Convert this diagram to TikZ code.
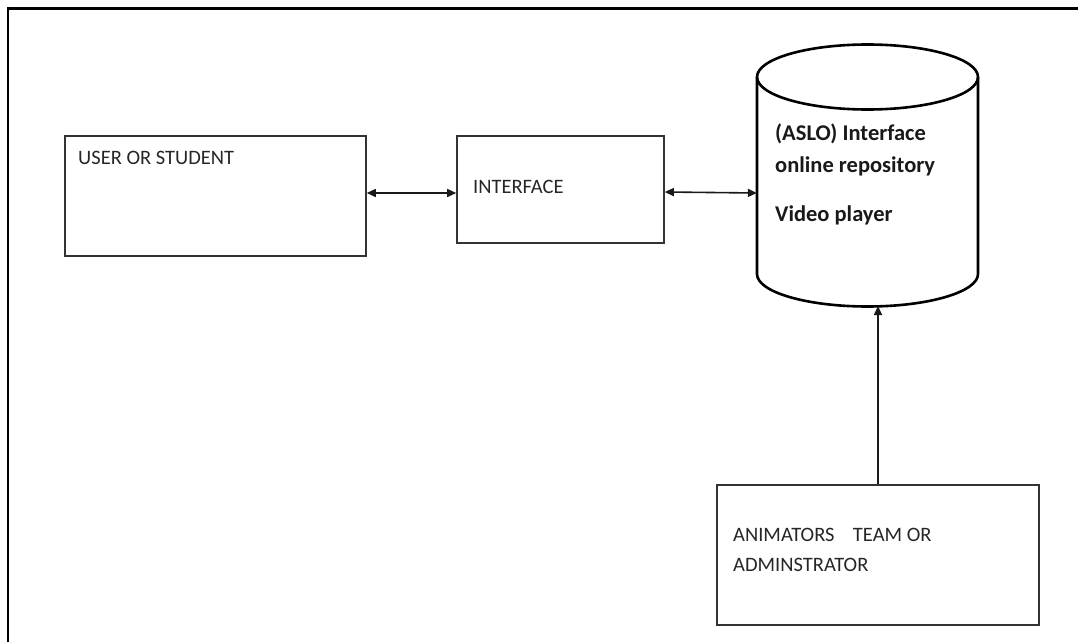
\documentclass[tikz,border=0pt]{standalone}
\usepackage{fontspec}
\setmainfont{Carlito}
\usetikzlibrary{arrows.meta}
\begin{document}
\begin{tikzpicture}[x=1pt,y=-1pt,
  box/.style={draw=black!80,line width=1.6pt,inner sep=0pt},
  label/.style={anchor=base west,inner sep=0pt,text=black!85,font=\fontsize{20.5}{24}\selectfont},
  dblabel/.style={anchor=base west,inner sep=0pt,text=black!90,font=\bfseries\fontsize{22.5}{26}\selectfont},
  link/.style={line width=1.6pt,draw=black!90,{Triangle[length=9pt,width=8pt]}-{Triangle[length=9pt,width=8pt]}},
  feed/.style={line width=1.6pt,draw=black!90,-{Triangle[length=9pt,width=8pt]}}]
\useasboundingbox (0,0) rectangle (1078,642);
% outer frame (open at right and bottom)
\draw[line width=2.6pt] (8,642) -- (8,8.5) -- (1078,8.5);

% boxes
\node[box,minimum width=301pt,minimum height=120pt] (user) at (215.5,196) {};
\node[label] (usertxt) at (78,164) {USER OR STUDENT};

\node[box,minimum width=207pt,minimum height=107pt] (iface) at (560.5,189.5) {};
\node[label] (ifacetxt) at (473,193) {INTERFACE};

\node[box,minimum width=322pt,minimum height=140pt] (admin) at (878,555) {};
\node[label] (admintxt1) at (733,541) {ANIMATORS\hspace{0.9em}TEAM OR};
\node[label] (admintxt2) at (733,571) {ADMINSTRATOR};

% repository cylinder
\draw[line width=2.6pt] (757,77) -- (757,274)
  arc[start angle=180,end angle=360,x radius=110.5pt,y radius=32.5pt] -- (978,77);
\draw[line width=2.6pt] (867.5,77) ellipse [x radius=110.5pt,y radius=32.5pt];
\node[minimum width=221pt,minimum height=197pt,inner sep=0pt] (repo) at (867.5,175.5) {};
\coordinate (repobottom) at (878,306);
\node[dblabel] (repotxt1) at (775,140) {(ASLO) Interface};
\node[dblabel] (repotxt2) at (775,172) {online repository};
\node[dblabel] (repotxt3) at (775,221) {Video player};

% connectors
\draw[link] (user.east |- 0,193) -- (iface.west |- 0,193);
\draw[link] (iface.east |- 0,192) -- (repo.west |- 0,193);
\draw[feed] (admin.north -| repobottom) -- (repobottom);
\end{tikzpicture}
\end{document}
